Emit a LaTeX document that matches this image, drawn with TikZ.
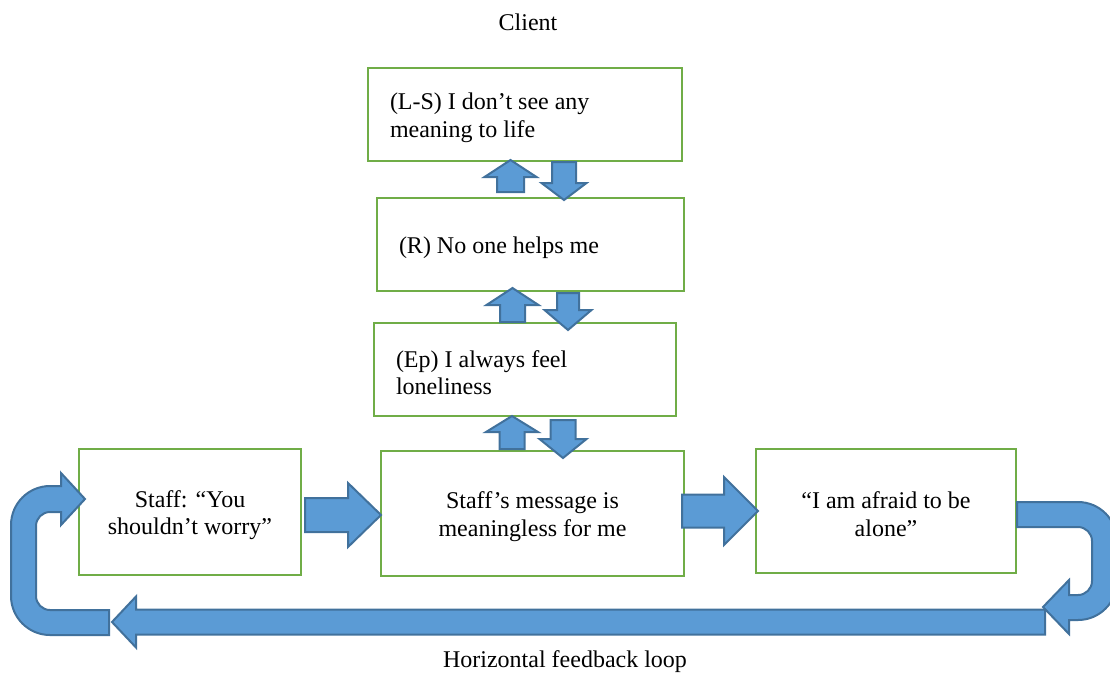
\documentclass[tikz,border=0pt]{standalone}
\usepackage{fontspec}
\setmainfont{Liberation Serif}
\usetikzlibrary{calc}
\definecolor{loopgreen}{RGB}{112,173,71}
\definecolor{loopblue}{RGB}{91,155,213}
\definecolor{loopedge}{RGB}{65,113,156}
\tikzset{
 levelbox/.style={draw=loopgreen,line width=2pt,inner xsep=22pt,inner ysep=0pt,
  execute at begin node={\rule{0pt}{23.5pt}}},
 blockstyle/.style={fill=loopblue,draw=loopedge,line width=2pt,line join=miter},
 pics/blockarr/.style args={#1/#2/#3/#4}{code={
  \draw[blockstyle] (0,-#2) -- ({#1-#4},-#2) -- ({#1-#4},-#3) -- (#1,0)
   -- ({#1-#4},#3) -- ({#1-#4},#2) -- (0,#2) -- cycle;}}
}
\begin{document}
\begin{tikzpicture}[x=1pt,y=-1pt,font=\fontsize{24}{27.6}\selectfont]
 \clip (0,0) rectangle (1110,675);
 % Vertical levels of the client.
 \node (client) at (528,22) {Client};
 \node[levelbox,minimum height=93,text width=270,align=flush left] (meaning)
  at (525,114.5) {(L-S) I don’t see any\\meaning to life};
 \node[levelbox,minimum height=93,text width=263,align=flush left] (helps)
  at (530.5,244.5) {(R) No one helps me};
 \node[levelbox,minimum height=93,text width=258,align=flush left] (lonely)
  at (525,369.5) {(Ep) I always feel\\loneliness};
 % Horizontal row.
 \node[levelbox,minimum height=126,text width=178,align=flush center] (staff)
  at (190,512) {Staff: “You\\shouldn’t worry”};
 \node[levelbox,minimum height=125,text width=259,align=flush center] (message)
  at (532.5,513.5) {Staff’s message is\\meaningless for me};
 \node[levelbox,minimum height=124,text width=216,align=flush center] (afraid)
  at (886,511) {“I am afraid to be\\alone”};
 \node (loopname) at (565,662) {Horizontal feedback loop};
 % Up and down arrows between the levels.
 \pic[rotate=90] at ($(helps.north)+(-20,-5)$) {blockarr=32/13.5/26/17};
 \pic[rotate=-90] at ($(meaning.south)+(39,0)$) {blockarr=38/12/22.5/17};
 \pic[rotate=90] at ($(lonely.north)+(-12.5,0)$) {blockarr=34/12.5/26/17};
 \pic[rotate=-90] at ($(helps.south)+(37.5,1)$) {blockarr=37/11/23.5/20};
 \pic[rotate=90] at ($(message.north)+(-20.5,-1)$) {blockarr=33/12.5/26/16};
 \pic[rotate=-90] at ($(lonely.south)+(38,3)$) {blockarr=38/12.5/23.5/19};
 % Arrows along the row and back.
 \pic at ($(staff.east)+(3,3)$) {blockarr=76/17/32/33};
 \pic at ($(message.east)+(-3,-2.5)$) {blockarr=76/16.5/34/34};
 \pic[rotate=180] at ($(afraid.south east)+(28,48)$) {blockarr=933/12.5/25.5/24};
 % U-turns at both ends.
 \draw[blockstyle] (1017,502) -- (1078,502)
  .. controls (1099.5,502) and (1117,519.5) .. (1117,541) -- (1117,581)
  .. controls (1117,602.5) and (1099.5,620) .. (1078,620) -- (1069,620)
  -- (1069,634) -- (1043,607) -- (1069,580) -- (1069,595) -- (1078,595)
  .. controls (1085.7,595) and (1092,588.7) .. (1092,581) -- (1092,541)
  .. controls (1092,533.3) and (1085.7,527) .. (1078,527) -- (1017,527) -- cycle;
 \draw[blockstyle] (109,635) -- (50,635)
  .. controls (28.5,635) and (11,617.5) .. (11,596) -- (11,525)
  .. controls (11,503.5) and (28.5,486) .. (50,486) -- (61,486) -- (61,473)
  -- (85,499) -- (61,525) -- (61,512) -- (50,512)
  .. controls (42.3,512) and (36,518.3) .. (36,526) -- (36,596)
  .. controls (36,603.7) and (42.3,610) .. (50,610) -- (109,610) -- cycle;
\end{tikzpicture}
\end{document}
